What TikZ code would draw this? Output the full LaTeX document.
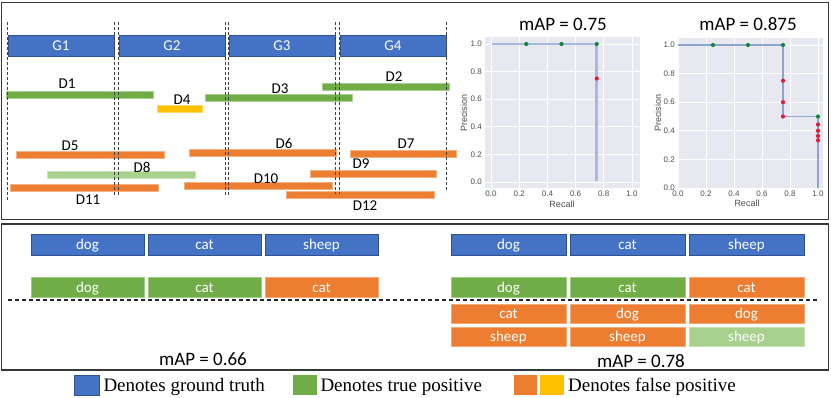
\documentclass[tikz,border=0pt]{standalone}
\usepackage{fontspec}
\setmainfont{Carlito}
\newfontfamily\seriflegend{Liberation Serif}
\newfontfamily\plotsans{Liberation Sans}
\usepackage{xcolor}
\usepackage{tikz}
\usetikzlibrary{positioning, arrows.meta}
\definecolor{GTBlue}{RGB}{68,114,196}
\definecolor{GTEdge}{RGB}{47,82,143}
\definecolor{TPGreen}{RGB}{112,173,71}
\definecolor{TPLight}{RGB}{169,209,142}
\definecolor{FPOrange}{RGB}{237,125,49}
\definecolor{FPYellow}{RGB}{255,192,0}
\definecolor{PlotBg}{RGB}{232,232,241}
\definecolor{PRLine}{RGB}{166,186,224}
\definecolor{PRThin}{RGB}{140,164,210}
\definecolor{DotGreen}{RGB}{20,135,55}
\definecolor{DotRed}{RGB}{228,26,55}
\definecolor{FrameGray}{RGB}{55,55,55}
\definecolor{TickGray}{RGB}{77,77,77}
\newcommand{\pxsize}[1]{\fontsize{#1}{#1}\selectfont}
\tikzset{
  frame/.style={draw=FrameGray, line width=1.2pt},
  gtbox/.style={draw=GTEdge, fill=GTBlue, text=white, line width=0.8pt, inner sep=0pt,
    minimum height=21pt, text height=11pt, text depth=0pt, font=\pxsize{15}},
  detbox/.style={draw=#1!65!white, fill=#1, text=white, line width=0.8pt, inner sep=0pt,
    text height=11pt, text depth=0pt, font=\pxsize{15}},
  dbar/.style={draw=#1!60!white, fill=#1, line width=0.5pt, inner sep=0pt, minimum height=7pt},
  dlab/.style={inner sep=0pt, font=\pxsize{15}},
  guide/.style={draw=black!75, line width=0.7pt, dash pattern=on 3pt off 2pt},
  sepline/.style={draw=black!85, line width=1.2pt, dash pattern=on 4pt off 3pt},
  gridline/.style={draw=white, line width=0.8pt},
  ticklab/.style={inner sep=0pt, text=TickGray, font=\plotsans\pxsize{8}},
  axlab/.style={inner sep=0pt, text=TickGray, font=\plotsans\pxsize{9}},
  maptxt/.style={inner sep=0pt, font=\pxsize{19}},
  legsq/.style={inner sep=0pt, minimum height=20pt, line width=0.6pt},
  legtxt/.style={inner sep=0pt, text height=13pt, text depth=0pt, font=\seriflegend\pxsize{19}},
}

\begin{document}
\begin{tikzpicture}[x=1pt, y=-1pt, font=\pxsize{15}]
    \useasboundingbox (0,0) rectangle (831,398);
    \draw[frame] (1.5,2.5) rectangle (828.5,219.5);
    \draw[frame] (1.5,224) rectangle (828.5,370);
    \foreach \n/\x in {1/61, 2/172, 3/282, 4/393}
      \node[gtbox, minimum width=106pt] (g\n) at (\x,45.5) {G\n};
    \foreach \n/\c/\x/\y/\w/\lx/\ly in {1/TPGreen/79.5/95/147/67/84, 2/TPGreen/385.5/86.5/127/394/77,
      3/TPGreen/278.5/98/147/280/89, 4/FPYellow/179.5/108.5/45/182/100,
      5/FPOrange/90/154.5/148/70/146, 6/FPOrange/262.5/152.5/147/284/143,
      7/FPOrange/403/153.5/106/406/144, 8/TPLight/121/174.5/148/142/167,
      9/FPOrange/373/173.5/126/361/164, 10/FPOrange/258/185.5/148/266/179,
      11/FPOrange/84/187.5/148/88/200, 12/FPOrange/360/194.5/148/365/206} {
      \node[dbar=\c, minimum width=\w pt] (d\n) at (\x,\y) {};
      \node[dlab] (dl\n) at (\lx,\ly) {D\n};
    }
    \foreach \a/\e in {g1.west/200, g1.east/195, g2.west/195, g2.east/195, g3.west/195,
      g3.east/194, g4.west/194, g4.east/192}
      \draw[guide] (\a |- 0,22) -- (\a |- 0,\e);

    \node[maptxt] (map1) at (563,24.5) {mAP = 0.75};
    \begin{scope}[shift={(491,182)}, x=141pt, y=138pt]
      \fill[PlotBg] (-0.043,-0.043) rectangle (1.057,1.05);
      \foreach \tk [count=\i] in {0.0,0.2,0.4,0.6,0.8,1.0} {
        \draw[gridline] (\tk,-0.043) -- (\tk,1.05);
        \draw[gridline] (-0.043,\tk) -- (1.057,\tk);
        \node[ticklab, anchor=north] (pax\i) at (\tk,-0.065) {\tk};
        \node[ticklab, anchor=east] (pay\i) at (-0.064,\tk) {\tk};
      }
      \draw[PRLine, line width=2.6pt] (0,1) -- (0.75,1) -- (0.75,0);
      \fill[white] (0,1) circle (1.3pt) (0.75,0) circle (1.3pt);
      \foreach \r/\p/\c in {0.25/1/DotGreen, 0.5/1/DotGreen, 0.75/1/DotGreen, 0.75/0.75/DotRed}
        \fill[\c] (\r,\p) circle (2.1pt);
    \end{scope}
    \node[axlab] (rec1) at (562,204) {Recall};
    \node[axlab, rotate=90] (pre1) at (464,113) {Precision};

    \node[maptxt] (map2) at (748,24.5) {mAP = 0.875};
    \begin{scope}[shift={(678,188)}, x=140pt, y=143pt]
      \fill[PlotBg] (0,0) rectangle (1.036,1.049);
      \foreach \tk [count=\i] in {0.0,0.2,0.4,0.6,0.8,1.0} {
        \draw[gridline] (\tk,0) -- (\tk,1.049);
        \draw[gridline] (0,\tk) -- (1.036,\tk);
        \node[ticklab, anchor=north] (pbx\i) at (\tk,-0.021) {\tk};
        \node[ticklab, anchor=east] (pby\i) at (-0.021,\tk) {\tk};
      }
      \draw[PRThin, line width=1.2pt] (0,1) -- (0.75,1) -- (0.75,0.5) -- (1,0.5) -- (1,0);
      \foreach \r/\p/\c in {0.25/1/DotGreen, 0.5/1/DotGreen, 0.75/1/DotGreen, 1/0.5/DotGreen,
        0.75/0.75/DotRed, 0.75/0.6/DotRed, 0.75/0.5/DotRed, 1/0.444/DotRed, 1/0.4/DotRed,
        1/0.364/DotRed, 1/0.333/DotRed}
        \fill[\c] (\r,\p) circle (2.1pt);
    \end{scope}
    \node[axlab] (rec2) at (747,203) {Recall};
    \node[axlab, rotate=90] (pre2) at (658,113) {Precision};

    \foreach \x/\w/\t [count=\i] in {87.5/113/dog, 204.5/113/cat, 321.5/113/sheep}
      \node[gtbox, minimum width=\w pt] (lgt\i) at (\x,244.5) {\t};
    \foreach \x/\w/\t/\c [count=\i] in {87.5/113/dog/TPGreen, 204.5/113/cat/TPGreen, 321.5/113/cat/FPOrange}
      \node[detbox=\c, minimum width=\w pt, minimum height=20pt] (ldt\i) at (\x,287) {\t};
    \foreach \x/\t [count=\i] in {508.5/dog, 627.5/cat, 746.5/sheep}
      \node[gtbox, minimum width=115pt] (rgt\i) at (\x,244.5) {\t};
    \foreach \x/\t/\c [count=\i] in {508.5/dog/TPGreen, 627.5/cat/TPGreen, 746.5/cat/FPOrange}
      \node[detbox=\c, minimum width=115pt, minimum height=20pt] (rda\i) at (\x,287) {\t};
    \foreach \x/\t/\c [count=\i] in {508.5/cat/FPOrange, 627.5/dog/FPOrange, 746.5/dog/FPOrange}
      \node[detbox=\c, minimum width=115pt, minimum height=19pt] (rdb\i) at (\x,313.5) {\t};
    \foreach \x/\t/\c [count=\i] in {508.5/sheep/FPOrange, 627.5/sheep/FPOrange, 746.5/sheep/TPLight}
      \node[detbox=\c, minimum width=115pt, minimum height=19pt] (rdc\i) at (\x,336.5) {\t};
    \draw[sepline] (8,300) -- (820,300);
    \node[maptxt] (mapl) at (203,359) {mAP = 0.66};
    \node[maptxt] (mapr) at (641,361) {mAP = 0.78};

    \node[legsq, fill=GTBlue, draw=GTEdge, minimum width=25pt] (sqgt) at (86.5,385) {};
    \node[legtxt, right=4pt of sqgt] (lgt) {Denotes ground truth};
    \node[legsq, fill=TPGreen, minimum width=24pt] (sqtp) at (305,385) {};
    \node[legtxt, right=3pt of sqtp] (ltp) {Denotes true positive};
    \node[legsq, fill=FPOrange, minimum width=23pt] (sqfp) at (525.5,385) {};
    \node[legsq, fill=FPYellow, minimum width=24pt, right=2pt of sqfp] (sqfy) {};
    \node[legtxt, right=4pt of sqfy] (lfp) {Denotes false positive};
\end{tikzpicture}
\end{document}
